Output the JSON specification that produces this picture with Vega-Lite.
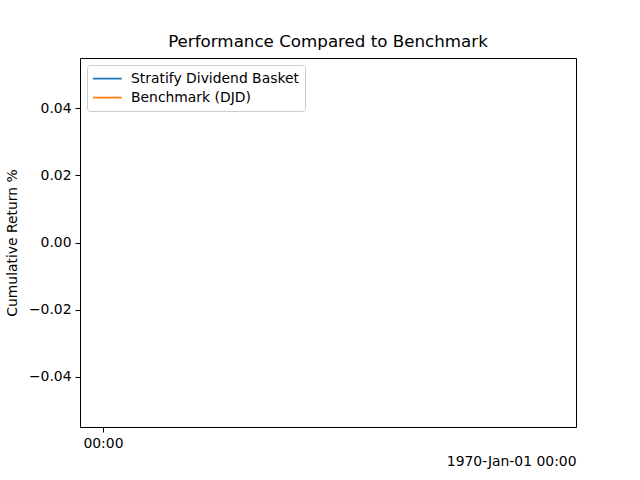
{
  "$schema": "https://vega.github.io/schema/vega-lite/v6.json",
  "autosize": {"type": "none"},
  "width": 496,
  "height": 369,
  "padding": {"left": 80, "top": 58, "right": 64, "bottom": 53},
  "background": "white",
  "config": {
    "font": "DejaVu Sans",
    "view": {"stroke": "black", "strokeWidth": 1},
    "axis": {"grid": false, "domain": false, "tickColor": "black", "tickSize": 5, "labelColor": "black", "labelFont": "DejaVu Sans", "labelFontSize": 13.9, "titleFont": "DejaVu Sans", "titleFontSize": 13.9, "titleFontWeight": "normal", "titleColor": "black"}
  },
  "title": {"text": "Performance Compared to Benchmark", "font": "DejaVu Sans", "fontSize": 16.7, "fontWeight": "normal", "color": "black", "offset": 7},
  "data": {"values": [
    {"series": "Stratify Dividend Basket", "t": null, "ret": null},
    {"series": "Benchmark (DJD)", "t": null, "ret": null}
  ]},
  "mark": {"type": "line", "strokeWidth": 1.5},
  "encoding": {
    "x": {"field": "t", "type": "quantitative",
      "scale": {"domain": [-0.05, 1.03], "nice": false, "zero": false},
      "axis": {"values": [0], "labelExpr": "'00:00'", "labelPadding": 4, "title": "1970-Jan-01 00:00", "titleAnchor": "end", "titlePadding": 5}},
    "y": {"field": "ret", "type": "quantitative",
      "scale": {"domain": [-0.055, 0.055], "nice": false, "zero": false},
      "axis": {"values": [-0.04, -0.02, 0, 0.02, 0.04], "labelExpr": "replace(format(datum.value, '.2f'), '-', '\u2212')", "labelPadding": 4, "title": "Cumulative Return %", "titlePadding": 9}},
    "color": {"field": "series", "type": "nominal",
      "scale": {"domain": ["Stratify Dividend Basket", "Benchmark (DJD)"], "range": ["#1f77b4", "#ff7f0e"]},
      "legend": {"title": null, "orient": "top-left", "offset": 7, "padding": 5.6, "fillColor": "white", "strokeColor": "#cccccc", "cornerRadius": 3,
        "symbolType": "M-1.08,0H3.02", "symbolSize": 196, "symbolStrokeWidth": 1.8, "symbolOpacity": 1, "symbolFillColor": "transparent", "labelFont": "DejaVu Sans", "labelFontSize": 13.9, "labelColor": "black", "labelOffset": 22.4, "rowPadding": 4, "labelLimit": 400}}
  }
}
